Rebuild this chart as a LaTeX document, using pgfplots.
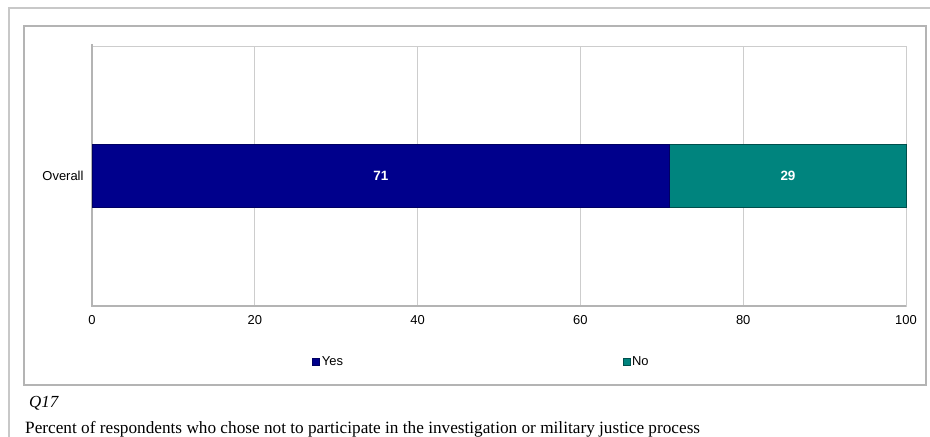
\documentclass[border=0pt]{standalone}
\usepackage{pgfplots}
\pgfplotsset{compat=1.18}
\usepackage{fontspec}
\setmainfont{Liberation Serif}
\newfontfamily\arial{Liberation Sans}
\definecolor{yescol}{RGB}{0,0,140}
\definecolor{nocol}{RGB}{0,132,126}
\definecolor{framegray}{RGB}{200,200,200}
\definecolor{gridgray}{RGB}{205,205,205}
\begin{document}
\begin{tikzpicture}[x=1bp,y=1bp]
\useasboundingbox (0,0) rectangle (930,437);
% outer frame (page border)
\draw[framegray, line width=1.5bp] (9,-2) -- (9,429) -- (932,429);
% chart area frame
\draw[framegray!90!black, line width=2.5bp] (24,52) rectangle (926,411);
\begin{axis}[
  at={(92bp,131bp)}, anchor=south west,
  scale only axis, width=814bp, height=260bp,
  clip=false,
  xbar stacked, bar width=63bp,
  xmin=0, xmax=100, ymin=-1, ymax=1,
  xtick={0,20,40,60,80,100},
  ytick={0}, yticklabels={Overall},
  major tick length=0pt,
  xmajorgrids, grid style={gridgray, line width=0.8bp},
  axis line style={gridgray, line width=0.8bp},
  tick label style={font=\arial\fontsize{13}{15}\selectfont, text=black},
  /pgf/number format/assume math mode=true,
  xticklabel style={yshift=-6bp},
  yticklabel style={xshift=-5bp},
  legend columns=2,
  legend style={at={(0.2705,-0.215)}, anchor=west, draw=none, fill=none,
    font=\arial\fontsize{13}{15}\selectfont,
    /tikz/every even column/.append style={column sep=278bp},
    inner xsep=0pt, nodes={inner xsep=1.5bp}},
  legend image code/.code={\fill[#1] (0bp,-3.5bp) rectangle (7bp,3.5bp);},
  nodes near coords,
  every node near coord/.append style={font=\arial\bfseries\fontsize{13.5}{15}\selectfont, text=white, anchor=center},
]
\addplot[fill=yescol, draw=yescol!70!black, line width=1bp] coordinates {(71,0)};
\addlegendentry{Yes}
\addplot[fill=nocol, draw=nocol!60!black, line width=1bp] coordinates {(29,0)};
\addlegendentry{No}
\draw[framegray!90!black, line width=2.5bp] ([yshift=2bp]rel axis cs:0,1) -- (rel axis cs:0,0) -- (rel axis cs:1,0);
\end{axis}
\node[anchor=west, font=\itshape\fontsize{17}{19}\selectfont, inner sep=0pt] at (29,34) {Q17};
\node[anchor=west, font=\fontsize{17.3}{19}\selectfont, inner sep=0pt] at (25,8) {Percent of respondents who chose not to participate in the investigation or military justice process};
\end{tikzpicture}
\end{document}
